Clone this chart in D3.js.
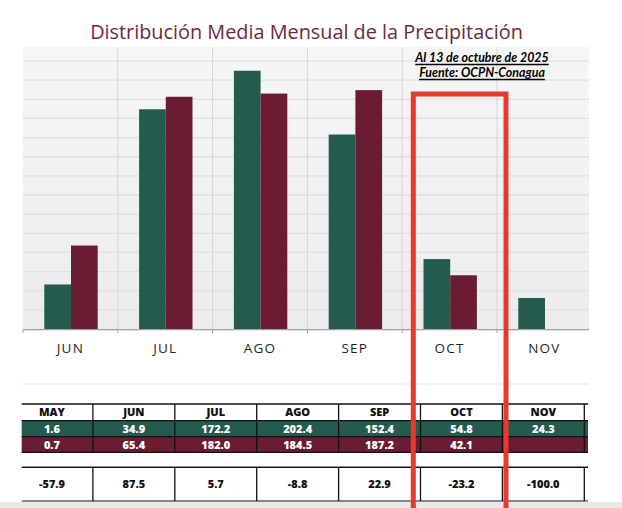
<!DOCTYPE html>
<html><head><meta charset="utf-8">
<script src="https://cdn.jsdelivr.net/npm/d3@7"></script>
<style>html,body{margin:0;padding:0;background:#fff;}svg{display:block;}</style>
</head><body>
<svg id="c" width="622" height="508"></svg>
<script>
// ---- data ----
const months = ["MAY","JUN","JUL","AGO","SEP","OCT","NOV"];
const chartMonths = ["JUN","JUL","AGO","SEP","OCT","NOV"];
const series = ["actual","media"];
const actual = [1.6, 34.9, 172.2, 202.4, 152.4, 54.8, 24.3];
const media  = [0.7, 65.4, 182.0, 184.5, 187.2, 42.1, null];
const diff   = [-57.9, 87.5, 5.7, -8.8, 22.9, -23.2, -100.0];
const gridTicks = [15,30,45,60,75,90,105,120,135,150,165,180,195,210];
const title = "Distribución Media Mensual de la Precipitación";
const note1 = "Al 13 de octubre de 2025";
const note2 = "Fuente: OCPN-Conagua";

const GREEN = "#235B4E", MAROON = "#691C32";
const svg = d3.select("#c");
const defs = svg.append("defs");
const grad = defs.append("linearGradient").attr("id","bg").attr("x1",0).attr("y1",0).attr("x2",0).attr("y2",1);
grad.append("stop").attr("offset","0%").attr("stop-color","#f6f6f6");
grad.append("stop").attr("offset","100%").attr("stop-color","#ececec");

const L = 23, R = 589, T = 47, B = 329;
defs.append("clipPath").attr("id","pc").append("rect").attr("x",L).attr("y",0).attr("width",R-L).attr("height",B+10);

// title
const tt = svg.append("text").attr("x",306.5).attr("y",39).attr("text-anchor","middle")
  .attr("font-family","Open Sans").attr("font-size",18.5).attr("fill","#6b2a3b").text(title);
const tw = tt.node().getComputedTextLength();
tt.attr("font-size", 18.5*433/tw);

// scales
const x0 = d3.scaleBand().domain(chartMonths).range([L, L+6*94.8]).padding(0);
const x1 = d3.scaleBand().domain(series).range([21.3, 74.7]).padding(0);
const y = d3.scaleLinear().domain([0, 221]).range([B, T]);

const plot = svg.append("g").attr("clip-path","url(#pc)");
plot.append("rect").attr("x",L).attr("y",T).attr("width",R-L).attr("height",B-T).attr("fill","url(#bg)");
plot.selectAll("line.h").data(gridTicks).join("line")
  .attr("x1",L).attr("x2",R).attr("y1",d=>y(d)).attr("y2",d=>y(d))
  .attr("stroke","#e0e0e0").attr("stroke-width",1.3);
plot.selectAll("line.v").data(chartMonths.slice(1)).join("line")
  .attr("x1",d=>x0(d)).attr("x2",d=>x0(d)).attr("y1",T).attr("y2",B)
  .attr("stroke","#d6d6d6").attr("stroke-width",1);

const rows = chartMonths.map(m => {
  const i = months.indexOf(m);
  return {m, vals:[{s:"actual",v:actual[i]},{s:"media",v:media[i]}]};
});
const grp = plot.selectAll("g.grp").data(rows).join("g").attr("transform",d=>`translate(${x0(d.m)},0)`);
grp.selectAll("rect").data(d=>d.vals.filter(e=>e.v!=null)).join("rect")
  .attr("x",d=>x1(d.s)).attr("width",x1.bandwidth())
  .attr("y",d=>y(d.v)).attr("height",d=>B-y(d.v))
  .attr("fill",d=>d.s==="actual"?GREEN:MAROON);

// x axis
const ax = svg.append("g").attr("transform",`translate(0,${B})`).attr("clip-path","url(#pc)")
  .call(d3.axisBottom(x0).tickSize(0).tickPadding(14));
ax.select(".domain").attr("stroke","#a0a0a0").attr("stroke-width",1.5);
ax.selectAll("text").attr("font-family","Open Sans").attr("font-size",13.5).attr("fill","#1e1e1e")
  .attr("letter-spacing","1.2px").attr("dy","0.72em");
svg.append("g").selectAll("line").data(chartMonths).join("line")
  .attr("x1",d=>x0(d)).attr("x2",d=>x0(d)).attr("y1",B).attr("y2",B+4)
  .attr("stroke","#a0a0a0").attr("stroke-width",1);

svg.append("line").attr("x1",22).attr("x2",R).attr("y1",384).attr("y2",384).attr("stroke","#e3e3e3").attr("stroke-width",1.2);

// annotation
[[note1,61.5,64.5],[note2,76.5,79.5]].forEach(([t,yy,uy])=>{
  const tx = svg.append("text").attr("x",482).attr("y",yy).attr("text-anchor","middle")
    .attr("font-family","Lato").attr("font-weight","bold").attr("font-style","italic")
    .attr("font-size",12.4).attr("fill","#000").text(t);
  const w = tx.node().getComputedTextLength();
  svg.append("line").attr("x1",482-w/2).attr("x2",482+w/2).attr("y1",uy).attr("y2",uy).attr("stroke","#000").attr("stroke-width",1.3);
});

// table
defs.append("clipPath").attr("id","tc").append("rect").attr("x",21.7).attr("y",390).attr("width",588-21.7).attr("height",118);
const tab = svg.append("g").attr("clip-path","url(#tc)");
const cx = d3.scaleBand().domain(d3.range(8)).range([11, 11+8*81.9]);
const cols = d3.range(8);
const rowsDef = [
  {y0:404, y1:420.7, fill:"#fff", color:"#111", vals:months},
  {y0:420.7, y1:436.7, fill:GREEN, color:"#fff", vals:actual.map(v=>v.toFixed(1))},
  {y0:436.7, y1:452.3, fill:MAROON, color:"#fff", vals:media.map(v=>v==null?"":v.toFixed(1))},
  {y0:467.3, y1:501, fill:"#fff", color:"#111", vals:diff.map(v=>v.toFixed(1))}
];
rowsDef.forEach(r=>{
  tab.append("rect").attr("x",11).attr("y",r.y0).attr("width",8*81.9).attr("height",r.y1-r.y0).attr("fill",r.fill);
  tab.selectAll(null).data(cols.slice(1)).join("line")
    .attr("x1",d=>cx(d)).attr("x2",d=>cx(d)).attr("y1",r.y0).attr("y2",r.y1)
    .attr("stroke","#111").attr("stroke-width",1.3);
  tab.selectAll(null).data(r.vals).join("text")
    .attr("x",(d,i)=>cx(i)+cx.bandwidth()/2).attr("y",(r.y0+r.y1)/2+4)
    .attr("text-anchor","middle").attr("font-family","Open Sans").attr("font-weight","800")
    .attr("font-size",11).attr("fill",r.color).text(d=>d);
});
[[404,1.6],[420.7,1.2],[436.7,1.2],[452.3,1.2],[467.3,1.6],[501,1]].forEach(([yy,w])=>{
  tab.append("line").attr("x1",11).attr("x2",11+8*81.9).attr("y1",yy).attr("y2",yy).attr("stroke","#111").attr("stroke-width",w);
});

svg.append("rect").attr("x",0).attr("y",502).attr("width",622).attr("height",6).attr("fill","#e8e8e8");

// red highlight box
svg.append("rect").attr("x",413.3).attr("y",94).attr("width",92.7).attr("height",440)
  .attr("fill","none").attr("stroke","#e8392f").attr("stroke-width",5);
</script>
</body></html>
